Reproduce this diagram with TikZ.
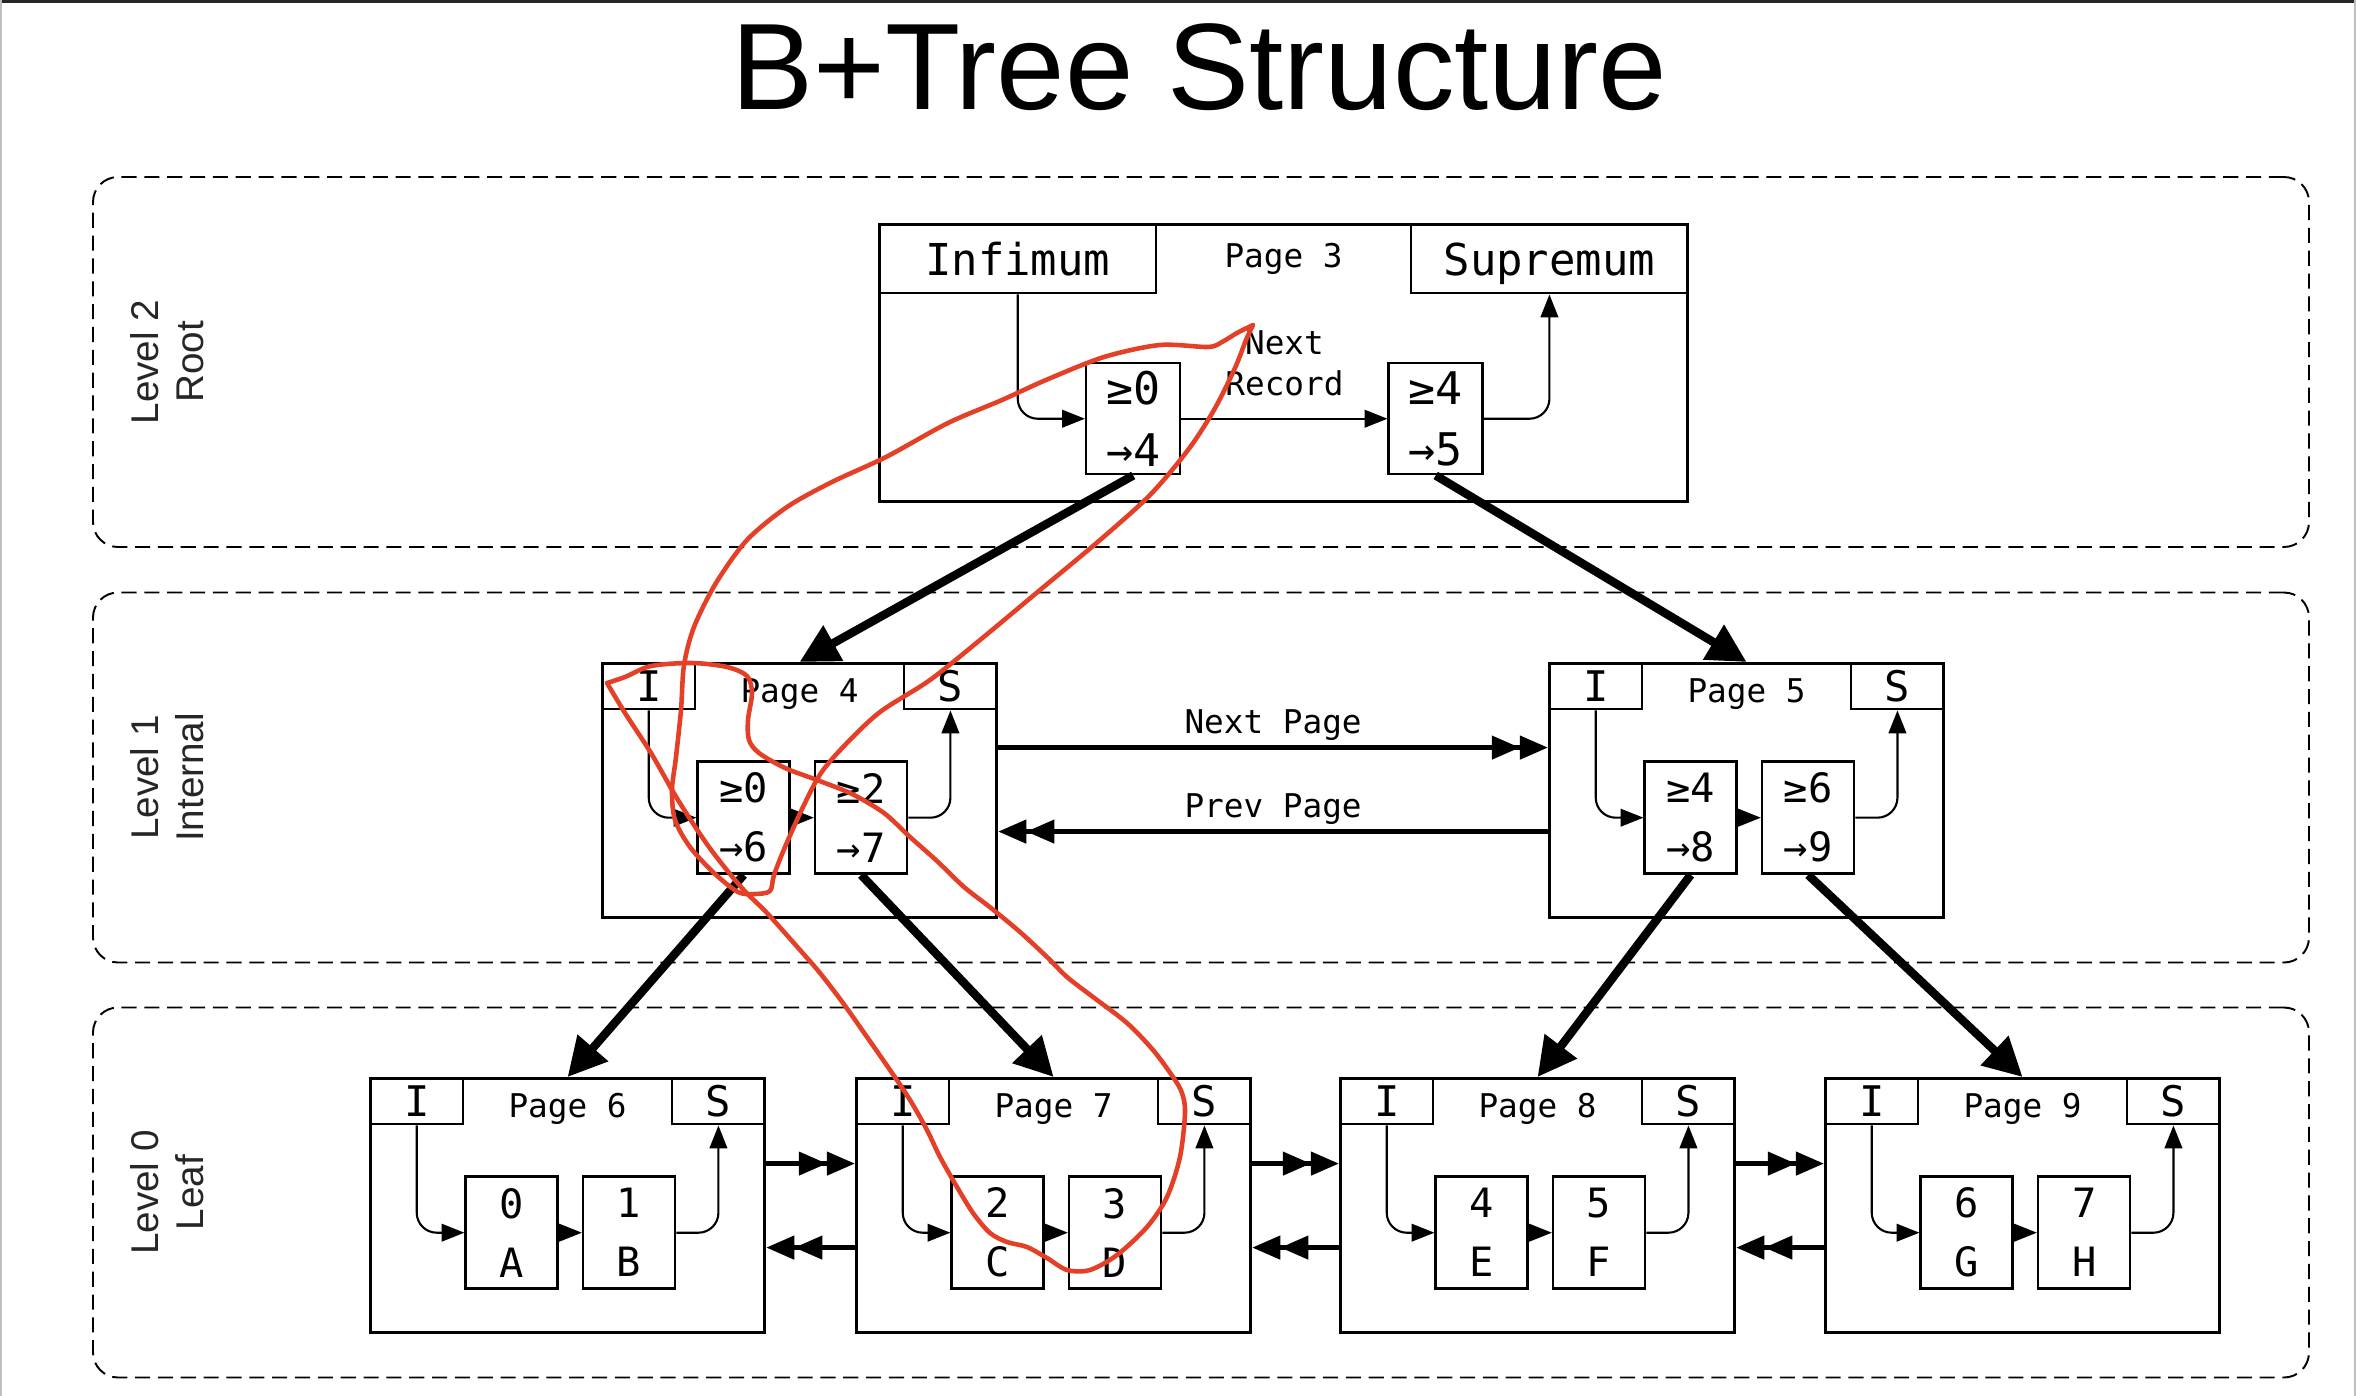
\documentclass[tikz,border=0pt]{standalone}
\usepackage{fontspec}
\setmainfont{Liberation Sans}
\setmonofont{DejaVu Sans Mono}
\usetikzlibrary{arrows.meta}
\usetikzlibrary{positioning}
\definecolor{penred}{RGB}{228,64,40}
\tikzset{
	band/.style={draw,dash pattern=on 4.3pt off 2.2pt,line width=0.55pt,rounded corners=2.5mm,minimum width=221.6mm,minimum height=37mm},
	lvllabel/.style={rotate=90,align=center,text=black!85,font=\fontsize{11}{12.8}\selectfont},
	page/.style={draw,fill=white,line width=0.9pt,anchor=north west,minimum width=39.4mm,minimum height=25.4mm,inner sep=0pt},
	bigpage/.style={page,minimum width=80.8mm,minimum height=27.7mm},
	slot/.style={draw,line width=0.7pt,minimum width=9.3mm,minimum height=4.6mm,inner sep=0pt,text depth=0pt,font=\fontsize{12}{14}\selectfont\ttfamily},
	bigslot/.style={slot,minimum width=27.7mm,minimum height=6.9mm,font=\fontsize{12.5}{14}\selectfont\ttfamily},
	rec/.style={draw,line width=0.7pt,minimum width=9.2mm,minimum height=11.2mm,inner sep=0pt,align=center,font=\fontsize{11.5}{16.8}\selectfont\ttfamily},
	bigrec/.style={rec,minimum width=9.4mm,minimum height=11.1mm,font=\fontsize{12.8}{17.5}\selectfont\ttfamily},
	pagename/.style={inner sep=0pt,font=\fontsize{9.3}{11.6}\selectfont\ttfamily},
	ptr/.style={line width=0.6pt,rounded corners=2mm,-{Triangle[length=6.5pt,width=5pt]}},
	child/.style={line width=2.4pt,-{Triangle[length=11pt,width=11pt]}},
	sib/.style={line width=1.4pt,-{Triangle[length=8pt,width=6.5pt]Triangle[length=8pt,width=6.5pt]}},
	pen/.style={draw=penred,line width=1.3pt,line cap=round,line join=round}
}
\begin{document}
\begin{tikzpicture}[x=0.1mm,y=-0.1mm]
	\useasboundingbox (0,0) rectangle (2356,1396);
	\draw[line width=0.8pt,black!85] (0,1.5) -- (2356,1.5);
	\draw[line width=0.4pt,black!25] (1,0) -- (1,1396);
	\draw[line width=0.4pt,black!25] (2355,0) -- (2355,1396);
	\node[font=\fontsize{35}{40}\selectfont] (title) at (1199,67) {B+Tree Structure};

	\node[band] (lv2) at (1201,362) {};
	\node[band] (lv1) at (1201,777.5) {};
	\node[band] (lv0) at (1201,1192.5) {};
	\node[lvllabel] (lv2t) at ([xshift=7.5mm]lv2.west) {Level 2\\Root};
	\node[lvllabel] (lv1t) at ([xshift=7.5mm]lv1.west) {Level 1\\Internal};
	\node[lvllabel] (lv0t) at ([xshift=7.5mm]lv0.west) {Level 0\\Leaf};

	\node[bigpage] (p3) at (878,223) {};
	\node[bigslot,anchor=north west] (inf) at (p3.north west) {Infimum};
	\node[bigslot,anchor=north east] (sup) at (p3.north east) {Supremum};
	\node[pagename] (pg3) at (p3.north |- inf.center) {Page 3};
	\node[bigrec,anchor=north west] (r3a) at (1085,362) {≥0\\→4};
	\node[bigrec,right=20.6mm of r3a] (r3b) {≥4\\→5};
	\draw[ptr] (inf.south) |- (r3a.west);
	\draw[ptr] (r3a.east) -- node[pagename,align=center,above=2.2mm] (nr) {Next\\Record} (r3b.west);
	\draw[ptr] (r3b.east) -| (sup.south);

	\node[page] (p4) at (601,662) {};
	\node[slot,anchor=north west] (i4) at (p4.north west) {I};
	\node[slot,anchor=north east] (s4) at (p4.north east) {S};
	\node[pagename,yshift=-0.8mm] (pg4) at (p4.north |- i4.center) {Page 4};
	\node[rec,anchor=north west] (r4a) at ([yshift=-5mm]i4.south east) {≥0\\→6};
	\node[rec,right=2.3mm of r4a] (r4b) {≥2\\→7};
	\draw[ptr] (i4.south) |- (r4a.west);
	\draw[ptr] (r4a.east) -- (r4b.west);
	\draw[ptr] (r4b.east) -| (s4.south);

	\node[page] (p5) at (1548,662) {};
	\node[slot,anchor=north west] (i5) at (p5.north west) {I};
	\node[slot,anchor=north east] (s5) at (p5.north east) {S};
	\node[pagename,yshift=-0.8mm] (pg5) at (p5.north |- i5.center) {Page 5};
	\node[rec,anchor=north west] (r5a) at ([yshift=-5mm]i5.south east) {≥4\\→8};
	\node[rec,right=2.3mm of r5a] (r5b) {≥6\\→9};
	\draw[ptr] (i5.south) |- (r5a.west);
	\draw[ptr] (r5a.east) -- (r5b.west);
	\draw[ptr] (r5b.east) -| (s5.south);

	\node[page] (p6) at (369,1077) {};
	\node[slot,anchor=north west] (i6) at (p6.north west) {I};
	\node[slot,anchor=north east] (s6) at (p6.north east) {S};
	\node[pagename,yshift=-0.8mm] (pg6) at (p6.north |- i6.center) {Page 6};
	\node[rec,anchor=north west] (r6a) at ([yshift=-5mm]i6.south east) {0\\A};
	\node[rec,right=2.3mm of r6a] (r6b) {1\\B};
	\draw[ptr] (i6.south) |- (r6a.west);
	\draw[ptr] (r6a.east) -- (r6b.west);
	\draw[ptr] (r6b.east) -| (s6.south);

	\node[page] (p7) at (855,1077) {};
	\node[slot,anchor=north west] (i7) at (p7.north west) {I};
	\node[slot,anchor=north east] (s7) at (p7.north east) {S};
	\node[pagename,yshift=-0.8mm] (pg7) at (p7.north |- i7.center) {Page 7};
	\node[rec,anchor=north west] (r7a) at ([yshift=-5mm]i7.south east) {2\\C};
	\node[rec,right=2.3mm of r7a] (r7b) {3\\D};
	\draw[ptr] (i7.south) |- (r7a.west);
	\draw[ptr] (r7a.east) -- (r7b.west);
	\draw[ptr] (r7b.east) -| (s7.south);

	\node[page] (p8) at (1339,1077) {};
	\node[slot,anchor=north west] (i8) at (p8.north west) {I};
	\node[slot,anchor=north east] (s8) at (p8.north east) {S};
	\node[pagename,yshift=-0.8mm] (pg8) at (p8.north |- i8.center) {Page 8};
	\node[rec,anchor=north west] (r8a) at ([yshift=-5mm]i8.south east) {4\\E};
	\node[rec,right=2.3mm of r8a] (r8b) {5\\F};
	\draw[ptr] (i8.south) |- (r8a.west);
	\draw[ptr] (r8a.east) -- (r8b.west);
	\draw[ptr] (r8b.east) -| (s8.south);

	\node[page] (p9) at (1824,1077) {};
	\node[slot,anchor=north west] (i9) at (p9.north west) {I};
	\node[slot,anchor=north east] (s9) at (p9.north east) {S};
	\node[pagename,yshift=-0.8mm] (pg9) at (p9.north |- i9.center) {Page 9};
	\node[rec,anchor=north west] (r9a) at ([yshift=-5mm]i9.south east) {6\\G};
	\node[rec,right=2.3mm of r9a] (r9b) {7\\H};
	\draw[ptr] (i9.south) |- (r9a.west);
	\draw[ptr] (r9a.east) -- (r9b.west);
	\draw[ptr] (r9b.east) -| (s9.south);

	\draw[child] (r3a.south) -- (p4.north);
	\draw[child] (r3b.south) -- (p5.north);
	\draw[child] (r4a.south) -- (p6.north);
	\draw[child] (r4b.south) -- (p7.north);
	\draw[child] (r5a.south) -- (p8.north);
	\draw[child] (r5b.south) -- (p9.north);

	\draw[sib] ([yshift=4.3mm]p4.east) -- node[pagename,above=0.5mm] (np) {Next Page} ([yshift=4.3mm]p5.west);
	\draw[sib] ([yshift=-4.1mm]p5.west) -- node[pagename,above=0.5mm] (pp) {Prev Page} ([yshift=-4.1mm]p4.east);
	\draw[sib] ([yshift=4.2mm]p6.east) -- ([yshift=4.2mm]p7.west);
	\draw[sib] ([yshift=-4.2mm]p7.west) -- ([yshift=-4.2mm]p6.east);
	\draw[sib] ([yshift=4.2mm]p7.east) -- ([yshift=4.2mm]p8.west);
	\draw[sib] ([yshift=-4.2mm]p8.west) -- ([yshift=-4.2mm]p7.east);
	\draw[sib] ([yshift=4.2mm]p8.east) -- ([yshift=4.2mm]p9.west);
	\draw[sib] ([yshift=-4.2mm]p9.west) -- ([yshift=-4.2mm]p8.east);

	\draw[pen] plot[smooth] coordinates {(1253,325) (1246,340) (1235,368) (1214,410) (1188,450) (1150,495) (1100,540) (1040,590) (980,640) (930,680) (880,712) (845,745) (821,773) (803,807) (785,847) (774,875) (770,891) (755,894) (738,892) (714,873) (690,847) (675,820) (672,790) (676,757) (681,710) (684,665) (694,627) (716,583) (747,540) (787,507) (832,482) (886,457) (948,423) (1002,400) (1046,380) (1104,357) (1160,345) (1208,347) (1222,342) (1237,333) (1253,325)};
	\draw[pen] plot[smooth] coordinates {(607,683) (625,677) (651,666) (692,663) (727,667) (747,676) (752,693) (748,720) (749,740) (759,753) (785,768) (817,780) (852,794) (884,813) (910,837) (937,861) (964,887) (991,908) (1020,932) (1047,957) (1067,977) (1093,997) (1127,1023) (1153,1050) (1173,1077) (1182,1093) (1185,1113) (1180,1157) (1167,1197) (1147,1227) (1117,1255) (1090,1270) (1067,1270) (1047,1258) (1027,1247) (1007,1242) (990,1233) (973,1213) (957,1187) (940,1157) (927,1130) (910,1100) (890,1070) (867,1037) (843,1003) (820,973) (800,950) (767,913) (741,887) (709,847) (678,800) (651,753) (625,713) (607,683)};
\end{tikzpicture}
\end{document}
